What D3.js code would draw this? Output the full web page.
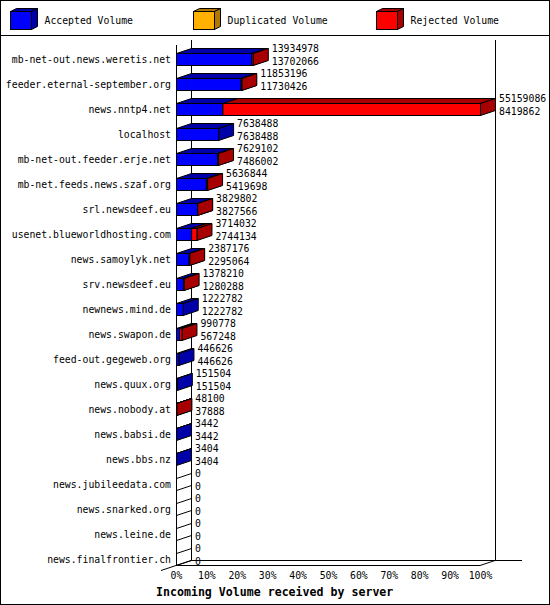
<!DOCTYPE html>
<html>
<head>
<meta charset="utf-8">
<script src="https://cdn.jsdelivr.net/npm/d3@7"></script>
<style>
  body { margin: 0; background: #fff; }
  svg { display: block; font-family: "DejaVu Sans Mono", monospace; }
</style>
</head>
<body>
<script>
const categories = [
  "mb-net-out.news.weretis.net", "feeder.eternal-september.org", "news.nntp4.net",
  "localhost", "mb-net-out.feeder.erje.net", "mb-net.feeds.news.szaf.org",
  "srl.newsdeef.eu", "usenet.blueworldhosting.com", "news.samoylyk.net",
  "srv.newsdeef.eu", "newnews.mind.de", "news.swapon.de", "feed-out.gegeweb.org",
  "news.quux.org", "news.nobody.at", "news.babsi.de", "news.bbs.nz",
  "news.jubileedata.com", "news.snarked.org", "news.leine.de", "news.finalfrontier.ch"
];
const acceptedVolume = [
  13702066, 11730426, 8419862, 7638488, 7486002, 5419698, 3827566, 2744134,
  2295064, 1280288, 1222782, 567248, 446626, 151504, 37888, 3442, 3404, 0, 0, 0, 0
];
const duplicatedVolume = [
  0, 0, 0, 0, 0, 0, 0, 0, 0, 0, 0, 0, 0, 0, 0, 0, 0, 0, 0, 0, 0
];
const rejectedVolume = [
  232912, 122770, 46739224, 0, 143100, 217146, 2236, 969898,
  92112, 97922, 0, 423530, 0, 0, 10212, 0, 0, 0, 0, 0, 0
];
const percentTicks = [0, 10, 20, 30, 40, 50, 60, 70, 80, 90, 100];

const series = [
  { name: "Accepted Volume", values: acceptedVolume, front: "#0000ff", dark: "#0000a8" },
  { name: "Duplicated Volume", values: duplicatedVolume, front: "#ffb000", dark: "#b07800" },
  { name: "Rejected Volume", values: rejectedVolume, front: "#ff0000", dark: "#a80000" }
];

const W = 550, H = 605;
const dx = 15, dy = 5;       // depth of the 3d effect
const barH = 12;
const left = 176, right = 480, floorY = 565, topY = 45;
const small = "9.8px";

const totals = categories.map((c, i) => d3.sum(series, s => s.values[i]));

const x = d3.scaleLinear().domain([0, d3.max(totals)]).range([left, right]);
const pct = d3.scaleLinear().domain([0, 100]).range([left, right]);
const y = d3.scalePoint().domain(categories).range([59, 559]);

const svg = d3.select("body").append("svg").attr("width", W).attr("height", H);

svg.append("rect")
  .attr("x", 0.5).attr("y", 0.5).attr("width", W - 1).attr("height", H - 1)
  .attr("fill", "#fff").attr("stroke", "#000");

svg.append("line")
  .attr("x1", 0).attr("x2", W).attr("y1", 35.5).attr("y2", 35.5)
  .attr("stroke", "#000");

// legend
const cube = (g, x0, y0, w, h, ddx, ddy, front, dark) => {
  g.append("polygon")
    .attr("points", [[x0, y0], [x0 + ddx, y0 - ddy], [x0 + w + ddx, y0 - ddy], [x0 + w, y0]].join(" "))
    .attr("fill", dark).attr("stroke", "#000");
  g.append("polygon")
    .attr("points", [[x0 + w, y0], [x0 + w + ddx, y0 - ddy], [x0 + w + ddx, y0 + h - ddy], [x0 + w, y0 + h]].join(" "))
    .attr("fill", dark).attr("stroke", "#000");
  g.append("rect")
    .attr("x", x0).attr("y", y0).attr("width", w).attr("height", h)
    .attr("fill", front).attr("stroke", "#000");
};

const legend = svg.append("g");
series.forEach((s, i) => {
  const lx = 10.5 + i * 183;
  cube(legend, lx, 11.5, 21, 18, 6, 3, s.front, s.dark);
  legend.append("text")
    .attr("x", lx + 34).attr("y", 24)
    .attr("font-size", small)
    .text(s.name);
});

// frame
const frame = svg.append("g").attr("stroke", "#000").attr("fill", "none");
frame.append("line").attr("x1", left + dx + 0.5).attr("x2", left + dx + 0.5)
  .attr("y1", topY - dy).attr("y2", floorY - dy);
frame.append("line").attr("x1", right + dx + 0.5).attr("x2", right + dx + 0.5)
  .attr("y1", topY - dy).attr("y2", floorY - dy);
frame.append("line").attr("x1", left + dx).attr("x2", 522)
  .attr("y1", floorY - dy + 0.5).attr("y2", floorY - dy + 0.5);
frame.append("line").attr("x1", left).attr("x2", right)
  .attr("y1", floorY + 0.5).attr("y2", floorY + 0.5);
frame.append("line").attr("x1", left + 0.5).attr("x2", left + 0.5)
  .attr("y1", topY).attr("y2", floorY);
frame.append("line").attr("x1", left - dx).attr("y1", floorY + dy + 0.5)
  .attr("x2", left + dx).attr("y2", floorY - dy + 0.5);
frame.append("line").attr("x1", right).attr("y1", floorY + 0.5)
  .attr("x2", right + dx).attr("y2", floorY - dy + 0.5);

// bars
const bars = svg.append("g").attr("stroke", "#000");
categories.forEach((c, i) => {
  const yc = y(c);
  const y0 = Math.round(yc - barH / 2) + 0.5;
  if (totals[i] === 0) {
    const xa = x(0) + 0.5;
    bars.append("polygon")
      .attr("points", [[xa, y0], [xa + dx, y0 - dy], [xa + dx, y0 + barH - dy], [xa, y0 + barH]].join(" "))
      .attr("fill", "none");
    return;
  }
  let cum = 0;
  series.forEach(s => {
    const v = s.values[i];
    if (v <= 0) return;
    const x0 = x(cum) + 0.5, x1 = x(cum + v) + 0.5;
    cum += v;
    bars.append("polygon")
      .attr("points", [[x0, y0], [x0 + dx, y0 - dy], [x1 + dx, y0 - dy], [x1, y0]].join(" "))
      .attr("fill", s.dark);
    bars.append("polygon")
      .attr("points", [[x1, y0], [x1 + dx, y0 - dy], [x1 + dx, y0 + barH - dy], [x1, y0 + barH]].join(" "))
      .attr("fill", s.dark);
    bars.append("rect")
      .attr("x", x0).attr("y", y0).attr("width", x1 - x0).attr("height", barH)
      .attr("fill", s.front);
  });
});

// category labels
svg.append("g").selectAll("text")
  .data(categories)
  .join("text")
  .attr("x", 171)
  .attr("y", d => y(d) + 3.5)
  .attr("text-anchor", "end")
  .attr("font-size", small)
  .text(d => d);

// value labels: total and accepted
const vals = svg.append("g").attr("font-size", small);
categories.forEach((c, i) => {
  const vx = x(totals[i]) + dx + 4;
  vals.append("text").attr("x", vx).attr("y", y(c) - 7).text(totals[i]);
  vals.append("text").attr("x", vx).attr("y", y(c) + 6).text(acceptedVolume[i]);
});

// percent axis
const axis = svg.append("g")
  .attr("transform", `translate(0,${floorY + 5})`)
  .call(d3.axisBottom(pct).tickValues(percentTicks).tickSize(0).tickPadding(2).tickFormat(d => d + "%"));
axis.select(".domain").remove();
axis.selectAll("text")
  .attr("font-family", "DejaVu Sans Mono")
  .attr("font-size", small)
  .attr("fill", "#000");

svg.append("text")
  .attr("x", 156).attr("y", 596)
  .attr("font-size", "11.6px")
  .attr("font-weight", "bold")
  .text("Incoming Volume received by server");
</script>
</body>
</html>
